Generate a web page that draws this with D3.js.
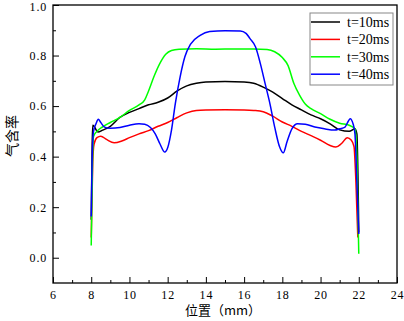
<!DOCTYPE html>
<html>
<head>
<meta charset="utf-8">
<script src="https://cdn.jsdelivr.net/npm/d3@7"></script>
<style>
  html, body { margin: 0; padding: 0; background: #fff; }
  svg { display: block; }
</style>
</head>
<body>
<div id="chart"></div>
<script>
const W = 404, H = 321;
const M = { left: 53, right: 7, top: 5, bottom: 38 };

const xTicks = [6, 8, 10, 12, 14, 16, 18, 20, 22, 24];
const xMinor = [7, 9, 11, 13, 15, 17, 19, 21, 23];
const yTicks = [0.0, 0.2, 0.4, 0.6, 0.8, 1.0];
const yMinor = [0.1, 0.3, 0.5, 0.7, 0.9];

const seriesNames = ["t=10ms", "t=20ms", "t=30ms", "t=40ms"];
const seriesColors = ["#000000", "#ff0000", "#00ff00", "#0000ff"];

// [position mm, gas fraction]
const t10 = [[8.0, 0.15], [8.05, 0.45], [8.08, 0.524], [8.15, 0.52], [8.35, 0.497], [8.6, 0.505],
  [9.0, 0.52], [9.5, 0.555], [10.0, 0.575], [10.5, 0.59], [11.0, 0.605], [11.5, 0.615],
  [12.0, 0.632], [12.5, 0.66], [13.0, 0.68], [13.5, 0.69], [14.0, 0.695], [15.0, 0.697],
  [16.0, 0.695], [16.5, 0.69], [17.0, 0.675], [17.5, 0.655], [18.0, 0.63], [18.5, 0.605],
  [19.0, 0.585], [19.5, 0.565], [20.0, 0.55], [20.5, 0.53], [21.0, 0.506], [21.5, 0.5],
  [21.8, 0.51], [21.9, 0.49], [22.0, 0.1]];

const t20 = [[8.0, 0.08], [8.08, 0.38], [8.15, 0.45], [8.3, 0.475], [8.5, 0.481], [8.8, 0.468],
  [9.2, 0.455], [9.6, 0.462], [10.0, 0.475], [10.5, 0.49], [11.0, 0.503], [11.5, 0.52],
  [12.0, 0.535], [12.5, 0.555], [13.0, 0.573], [13.5, 0.583], [14.0, 0.585], [15.0, 0.586],
  [16.0, 0.585], [16.5, 0.583], [17.0, 0.578], [17.5, 0.56], [18.0, 0.537], [18.5, 0.52],
  [19.0, 0.5], [19.5, 0.483], [20.0, 0.465], [20.5, 0.444], [20.8, 0.438], [21.1, 0.452],
  [21.4, 0.475], [21.6, 0.466], [21.75, 0.44], [21.85, 0.3], [21.95, 0.08]];

const t30 = [[8.0, 0.048], [8.06, 0.35], [8.12, 0.48], [8.3, 0.5], [8.6, 0.518], [9.0, 0.535],
  [9.5, 0.555], [10.0, 0.583], [10.5, 0.605], [10.8, 0.625], [11.0, 0.66], [11.3, 0.72],
  [11.6, 0.77], [11.9, 0.805], [12.2, 0.82], [12.6, 0.825], [13.5, 0.827], [14.5, 0.825],
  [15.5, 0.826], [16.5, 0.826], [17.2, 0.824], [17.6, 0.815], [18.0, 0.792], [18.3, 0.76],
  [18.6, 0.69], [18.9, 0.643], [19.2, 0.608], [19.5, 0.59], [20.0, 0.57], [20.5, 0.548],
  [21.0, 0.532], [21.5, 0.524], [21.8, 0.51], [21.9, 0.4], [22.0, 0.016]];

const t40 = [[8.0, 0.163], [8.05, 0.4], [8.12, 0.5], [8.25, 0.53], [8.37, 0.548], [8.5, 0.535],
  [8.7, 0.517], [9.0, 0.512], [9.5, 0.515], [10.0, 0.524], [10.5, 0.53], [10.8, 0.528],
  [11.1, 0.515], [11.35, 0.49], [11.6, 0.45], [11.85, 0.418], [12.0, 0.435], [12.2, 0.505],
  [12.4, 0.61], [12.65, 0.715], [12.9, 0.795], [13.2, 0.845], [13.7, 0.88], [14.2, 0.895],
  [15.0, 0.898], [15.8, 0.897], [16.1, 0.888], [16.3, 0.868], [16.6, 0.834], [16.85, 0.768],
  [17.1, 0.689], [17.35, 0.61], [17.6, 0.517], [17.85, 0.44], [18.05, 0.415], [18.25, 0.46],
  [18.5, 0.51], [18.8, 0.53], [19.2, 0.528], [19.7, 0.517], [20.2, 0.51], [20.75, 0.505],
  [21.0, 0.51], [21.28, 0.517], [21.45, 0.54], [21.55, 0.55], [21.7, 0.53], [21.8, 0.49],
  [21.9, 0.3], [22.0, 0.094]];

const series = [t10, t20, t30, t40];

const svg = d3.select("#chart").append("svg")
  .attr("width", W).attr("height", H);

const x = d3.scaleLinear().domain([6, 24]).range([M.left, W - M.right]);
const y = d3.scaleLinear().domain([-0.1, 1.0]).range([H - M.bottom, M.top]);

const tickFont = g => g.selectAll("text")
  .style("font-family", "'Liberation Serif', 'DejaVu Serif', serif")
  .style("font-size", "12px")
  .style("letter-spacing", "0.8px")
  .style("fill", "#000");

// axes (ticks point inward)
svg.append("g")
  .attr("transform", `translate(0,${H - M.bottom})`)
  .call(d3.axisBottom(x).tickValues(xMinor).tickSize(-3).tickFormat(""))
  .call(g => g.select(".domain").remove());
svg.append("g")
  .attr("transform", `translate(${M.left},0)`)
  .call(d3.axisLeft(y).tickValues(yMinor).tickSize(-3).tickFormat(""))
  .call(g => g.select(".domain").remove());

svg.append("g")
  .attr("transform", `translate(0,${H - M.bottom})`)
  .call(d3.axisBottom(x).tickValues(xTicks).tickSize(-6).tickPadding(7).tickFormat(d3.format("d")))
  .call(g => g.select(".domain").remove())
  .call(tickFont);
svg.append("g")
  .attr("transform", `translate(${M.left},0)`)
  .call(d3.axisLeft(y).tickValues(yTicks).tickSize(-6).tickPadding(6).tickFormat(d3.format(".1f")))
  .call(g => g.select(".domain").remove())
  .call(tickFont)
  .call(g => g.selectAll(".tick").filter(d => d === 1).select("text").attr("dy", "0.45em"));

const line = d3.line()
  .x(d => x(d[0]))
  .y(d => y(d[1]))
  .curve(d3.curveMonotoneX);

svg.append("g").selectAll("path")
  .data(series)
  .join("path")
  .attr("d", line)
  .attr("fill", "none")
  .attr("stroke", (d, i) => seriesColors[i])
  .attr("stroke-width", 1.5)
  .attr("stroke-linejoin", "round");

// frame
svg.append("rect")
  .attr("x", M.left).attr("y", M.top)
  .attr("width", W - M.right - M.left)
  .attr("height", H - M.bottom - M.top)
  .attr("fill", "none")
  .attr("stroke", "#000")
  .attr("stroke-width", 1.3);

// axis titles
svg.append("text")
  .attr("x", 223)
  .attr("y", 315)
  .attr("text-anchor", "middle")
  .style("font-family", "'Noto Sans CJK SC', sans-serif")
  .style("font-size", "13px")
  .text("位置（mm）");

svg.append("text")
  .attr("transform", `translate(17,136) rotate(-90)`)
  .attr("text-anchor", "middle")
  .style("font-family", "'Noto Sans CJK SC', sans-serif")
  .style("font-size", "14px")
  .text("气含率");

// legend
const legend = svg.append("g").attr("transform", "translate(310,13)");
legend.append("rect")
  .attr("width", 83).attr("height", 72)
  .attr("fill", "#fff")
  .attr("stroke", "#888")
  .attr("stroke-width", 1);

seriesNames.forEach((name, i) => {
  const row = legend.append("g").attr("transform", `translate(0,${9 + i * 17.4})`);
  row.append("line")
    .attr("x1", 1).attr("x2", 30)
    .attr("stroke", seriesColors[i])
    .attr("stroke-width", 1.5);
  row.append("text")
    .attr("x", 37).attr("y", 5)
    .style("font-family", "'Liberation Serif', serif")
    .style("font-size", "14px")
    .text(name);
});
</script>
</body>
</html>
